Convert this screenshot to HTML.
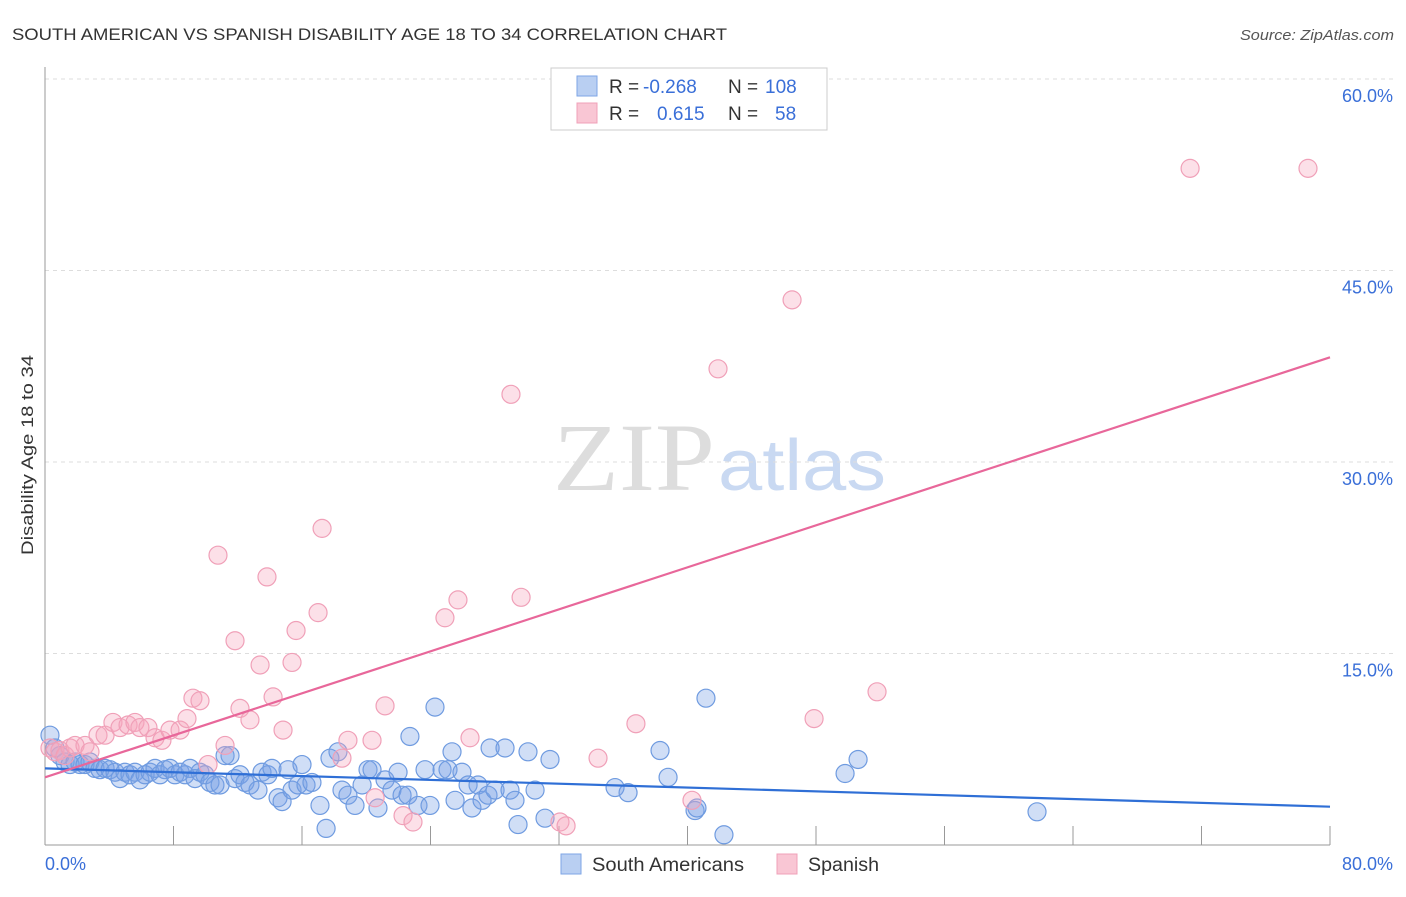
<!DOCTYPE html>
<html><head><meta charset="utf-8"><style>
body{margin:0;background:#fff;font-family:"Liberation Sans",sans-serif;}
</style></head><body>
<svg id="c" width="1406" height="892" xmlns="http://www.w3.org/2000/svg">
<text x="12" y="40" font-size="17" fill="#333" textLength="715" lengthAdjust="spacingAndGlyphs">SOUTH AMERICAN VS SPANISH DISABILITY AGE 18 TO 34 CORRELATION CHART</text>
<text x="1394" y="40" font-size="14.5" fill="#555" font-style="italic" text-anchor="end" textLength="154" lengthAdjust="spacingAndGlyphs">Source: ZipAtlas.com</text>
<text x="33" y="455" font-size="17" fill="#333" text-anchor="middle" textLength="200" lengthAdjust="spacingAndGlyphs" transform="rotate(-90 33 455)">Disability Age 18 to 34</text>
<g><text x="553" y="490" font-family="Liberation Serif,serif" font-size="96" fill="#ddd" textLength="162" lengthAdjust="spacingAndGlyphs">ZIP</text><text x="718" y="490" font-size="72" fill="#c9d9f2" textLength="168" lengthAdjust="spacingAndGlyphs">atlas</text></g>
<g id="grid"></g><g id="marks"></g>
<g>
<rect x="551" y="68" width="276" height="62" fill="#fff" stroke="#ccc"/>
<rect x="577" y="76" width="20" height="20" fill="#b9cff2" stroke="#7ea6e6"/>
<rect x="577" y="103" width="20" height="20" fill="#f9c6d4" stroke="#f0a0b8"/>
<text x="609" y="93" font-size="19" fill="#333">R = </text><text x="643" y="93" font-size="19" fill="#3a6fd8">-0.268</text>
<text x="728" y="93" font-size="19" fill="#333">N = </text><text x="765" y="93" font-size="19" fill="#3a6fd8">108</text>
<text x="609" y="120" font-size="19" fill="#333">R = </text><text x="657" y="120" font-size="19" fill="#3a6fd8">0.615</text>
<text x="728" y="120" font-size="19" fill="#333">N = </text><text x="775" y="120" font-size="19" fill="#3a6fd8">58</text>
</g>
<g>
<rect x="561" y="854" width="20" height="20" fill="#b9cff2" stroke="#7ea6e6"/>
<text x="592" y="871" font-size="19" fill="#333" textLength="152" lengthAdjust="spacingAndGlyphs">South Americans</text>
<rect x="777" y="854" width="20" height="20" fill="#f9c6d4" stroke="#f0a0b8"/>
<text x="808" y="871" font-size="19" fill="#333" textLength="71" lengthAdjust="spacingAndGlyphs">Spanish</text>
</g>
</svg>
<script>
const yTicks=[15,30,45,60];
const xTickLabels=["0.0%","80.0%"];
const blueX=[0.31,0.62,0.93,1.25,1.56,1.87,2.18,2.49,2.80,3.11,3.42,3.74,4.05,4.36,4.67,4.98,5.29,5.60,5.91,6.23,6.54,6.85,7.16,7.47,7.78,8.09,8.41,8.72,9.03,9.34,9.65,9.96,10.27,10.58,10.90,11.21,11.52,11.83,12.14,12.45,12.76,13.26,13.51,13.88,14.13,14.51,14.76,15.13,15.38,15.75,16.0,16.25,16.62,17.12,17.50,17.74,18.24,18.49,18.86,19.30,19.74,20.11,20.36,20.73,21.17,21.60,21.98,22.23,22.60,22.72,23.22,23.66,23.97,24.28,24.72,25.09,25.34,25.53,25.96,26.34,26.58,26.96,27.21,27.58,27.71,28.02,28.64,28.95,29.26,29.45,30.07,30.51,31.13,31.44,35.49,36.30,38.29,38.79,40.47,40.59,41.15,42.27,49.81,50.62,61.76];
const blueY=[8.6,7.6,7.0,6.5,6.3,6.5,6.3,6.3,6.5,6.0,5.9,6.0,5.9,5.7,5.2,5.7,5.5,5.7,5.1,5.5,5.7,6.0,5.5,5.9,6.0,5.5,5.7,5.5,6.0,5.2,5.7,5.5,4.9,4.7,4.7,7.0,7.0,5.2,5.5,4.9,4.7,4.3,5.7,5.5,6.0,3.7,3.4,5.9,4.3,4.7,6.3,4.7,4.9,3.1,1.3,6.8,7.3,4.3,3.9,3.1,4.7,5.9,5.9,2.9,5.1,4.3,5.7,3.9,3.9,8.5,3.1,5.9,3.1,10.8,5.9,5.9,7.3,3.5,5.7,4.7,2.9,4.7,3.5,3.9,7.6,4.3,7.6,4.3,3.5,1.6,7.3,4.3,2.1,6.7,4.5,4.1,7.4,5.3,2.7,2.9,11.5,0.8,5.6,6.7,2.6];
const pinkX=[0.31,0.62,0.93,1.25,1.56,1.87,2.49,2.80,3.30,3.74,4.23,4.67,5.17,5.60,5.91,6.41,6.85,7.28,7.78,8.41,8.84,9.21,9.65,10.15,10.77,11.21,11.83,12.14,12.76,13.39,13.82,14.20,14.82,15.38,15.63,17.0,17.25,18.49,18.86,20.36,20.55,21.17,22.29,22.91,24.90,25.71,26.46,29.01,29.64,32.06,32.44,34.43,36.79,40.28,41.90,46.51,47.88,51.80,71.29,78.63];
const pinkY=[7.6,7.3,7.4,7.0,7.6,7.8,7.8,7.3,8.6,8.6,9.6,9.2,9.4,9.6,9.2,9.2,8.4,8.2,9.0,9.0,9.9,11.5,11.3,6.3,22.7,7.8,16.0,10.7,9.8,14.1,21.0,11.6,9.0,14.3,16.8,18.2,24.8,6.8,8.2,8.2,3.7,10.9,2.3,1.8,17.8,19.2,8.4,35.3,19.4,1.8,1.5,6.8,9.5,3.5,37.3,42.7,9.9,12.0,53.0,53.0];
const blueTrend=[6.0,3.0];
const pinkTrend=[5.3,38.2];
const X0=45,X1=1330,Y0=845,Y1=79;
const sx=v=>X0+v/80*(X1-X0);
const sy=v=>Y0-v/60*(Y0-Y1);
const NS="http://www.w3.org/2000/svg";
const grid=document.getElementById('grid'),marks=document.getElementById('marks');
function mk(tag,attrs,parent){const e=document.createElementNS(NS,tag);for(const k in attrs)e.setAttribute(k,attrs[k]);parent.appendChild(e);return e;}
yTicks.forEach(t=>{
  const l=mk('line',{x1:X0,x2:1395,y1:sy(t),y2:sy(t),stroke:'#ddd','stroke-dasharray':'4,4'},grid);
  
  
  const tx=mk('text',{x:1393,y:sy(t)+23,'font-size':18,fill:'#3a6fd8','text-anchor':'end'},grid);
  tx.textContent=t.toFixed(1)+'%';
  
  
});
const ax=mk('line',{x1:X0,x2:X0,y1:67,y2:Y0,stroke:'#999'},grid);


const bx=mk('line',{x1:X0,x2:X1,y1:Y0,y2:Y0,stroke:'#999'},grid);


for(let i=1;i<=10;i++){const t=mk('line',{x1:sx(i*8),x2:sx(i*8),y1:826,y2:Y0,stroke:'#999'},grid);

}
const xl0=mk('text',{x:45,y:870,'font-size':18,fill:'#3a6fd8'},grid);xl0.textContent=xTickLabels[0];


const xl1=mk('text',{x:1393,y:870,'font-size':18,fill:'#3a6fd8','text-anchor':'end'},grid);xl1.textContent=xTickLabels[1];


blueX.forEach((v,i)=>{const c=mk('circle',{cx:sx(v),cy:sy(blueY[i]),r:9,fill:'rgba(120,160,230,0.35)',stroke:'#6f9be0','stroke-width':1.2},marks);

});
pinkX.forEach((v,i)=>{const c=mk('circle',{cx:sx(v),cy:sy(pinkY[i]),r:9,fill:'rgba(245,165,190,0.35)',stroke:'#f0a0b8','stroke-width':1.2},marks);

});
const bt=mk('line',{x1:sx(0),x2:sx(80),y1:sy(blueTrend[0]),y2:sy(blueTrend[1]),stroke:'#2f6fd6','stroke-width':2.2},marks);


const pt=mk('line',{x1:sx(0),x2:sx(80),y1:sy(pinkTrend[0]),y2:sy(pinkTrend[1]),stroke:'#e8679a','stroke-width':2.2},marks);


</script>
</body></html>
